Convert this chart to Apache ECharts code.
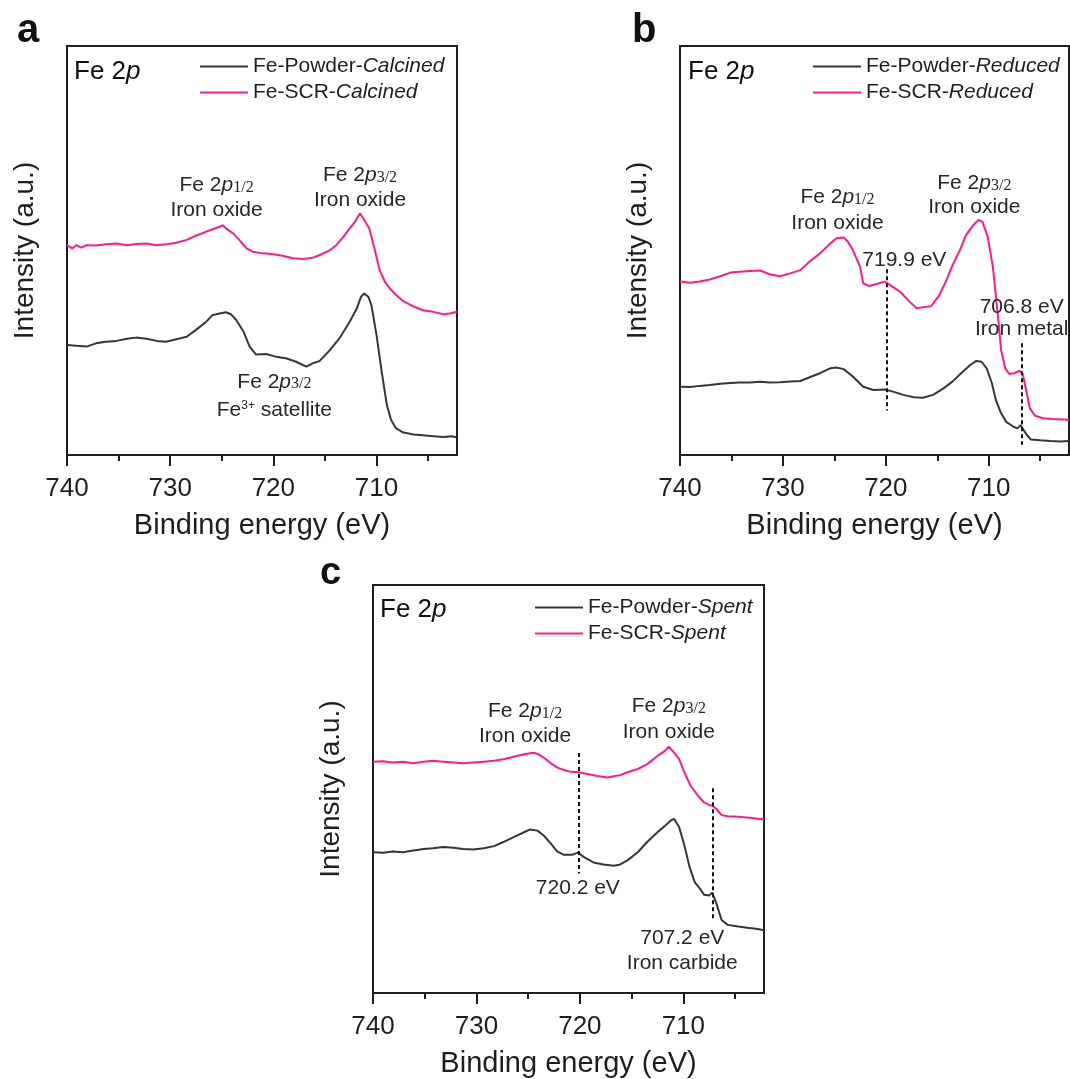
<!DOCTYPE html>
<html>
<head>
<meta charset="utf-8">
<script src="https://cdn.jsdelivr.net/npm/echarts@6/dist/echarts.min.js"></script>
<style>
html,body{margin:0;padding:0;background:#fff;}
#chart{width:1070px;height:1079px;}
</style>
</head>
<body>
<div id="chart"></div>
<script>
// ---------- DATA ----------
const X_MIN = 702.2, X_MAX = 740;
const majorTicks = [740, 730, 720, 710];
const minorTicks = [735, 725, 715, 705];

// Panel a (Calcined)
const aPowderE = [740,739.1,738.1,737.2,736.2,735.2,734.2,733.3,732.3,731.3,730.4,729.4,728.4,727.5,726.5,725.9,725.2,724.6,724.1,723.6,722.9,722.3,721.7,720.7,719.7,718.7,717.8,716.8,716.2,715.5,714.5,713.6,712.6,711.9,711.5,711.2,710.8,710.5,710.0,709.5,709.0,708.6,708.1,707.4,706.4,705.5,704.5,703.5,702.7,702.2];
const aPowderI = [26.9,26.7,26.5,27.3,27.7,27.9,28.4,28.7,28.4,27.9,27.7,28.3,28.9,30.6,32.6,34.2,34.6,34.9,34.4,33.0,30.2,26.5,24.6,24.7,24.0,23.6,22.8,21.6,22.4,23.0,25.7,28.5,32.6,35.9,38.7,39.5,38.7,36.7,29.3,20.4,12.2,8.6,6.5,5.5,5.0,4.8,4.6,4.4,4.6,4.3];
const aScrE = [740,739.5,739.1,738.6,738.1,737.2,736.2,735.2,734.2,733.3,732.3,731.3,730.4,729.4,728.4,727.5,726.5,725.9,725.2,724.9,724.6,723.9,723.3,722.6,722.0,721.0,720.0,719.1,718.1,717.1,716.2,715.5,714.5,713.9,713.2,712.6,712.1,711.6,711.2,710.7,710.2,709.7,709.2,708.7,708.1,707.4,706.4,705.5,704.5,703.5,702.9,702.2];
const aScrI = [51.3,50.5,51.3,50.7,51.3,51.2,51.5,51.7,51.3,51.6,51.7,51.3,51.5,51.9,52.6,53.6,54.6,55.2,55.8,56.2,55.4,54.2,52.6,50.5,49.7,49.3,49.1,48.7,48.1,47.9,48.2,48.9,50.1,51.3,53.4,55.4,57.0,59.1,57.5,55.4,50.5,45.2,42.4,40.7,39.1,37.6,36.3,35.4,35.0,34.4,34.6,35.0];

// Panel b (Reduced)
const bPowderE = [740,739.0,738.1,737.1,736.1,735.1,734.2,733.2,732.2,731.3,730.3,729.3,728.3,727.4,726.4,725.4,724.8,724.1,723.2,722.2,721.2,720.1,719.3,718.3,717.3,716.4,715.4,714.4,713.5,712.5,711.8,711.2,710.7,710.2,709.7,709.3,708.8,708.3,707.6,707.2,706.9,706.7,706.3,705.9,705.0,704.0,703.0,702.2];
const bPowderI = [16.7,16.6,16.9,17.1,17.4,17.6,17.7,17.7,17.9,17.7,17.8,18.0,18.1,19.0,20.0,21.2,21.4,21.0,19.2,16.7,15.9,16.0,15.5,14.7,14.1,14.0,14.7,16.3,18.0,20.4,22.0,23.0,22.8,21.2,17.6,13.4,10.2,8.1,6.9,6.5,7.3,6.5,4.9,3.8,3.6,3.4,3.3,3.4];
const bScrE = [740,739.0,738.1,737.1,736.1,735.1,734.2,733.2,732.2,731.3,730.3,729.3,728.3,727.4,726.4,725.4,724.8,724.1,723.7,723.2,722.5,722.2,721.6,720.9,720.1,719.6,718.6,717.7,717.0,716.4,715.6,714.8,714.1,713.5,712.8,712.2,711.5,711.0,710.6,710.1,709.6,709.1,708.8,708.4,708.0,707.5,707.0,706.7,706.3,706.0,705.5,704.7,703.8,702.8,702.2];
const bScrI = [42.4,42.1,42.4,42.9,43.7,44.6,44.8,45.0,45.1,44.2,43.7,44.4,45.2,47.3,49.3,51.7,53.0,53.2,52.2,50.1,46.0,42.0,41.3,41.8,42.4,41.6,39.9,37.5,35.9,36.1,36.4,39.1,42.8,46.5,50.1,53.8,56.2,57.5,57.0,53.4,46.0,33.8,25.7,21.2,19.8,20.0,20.6,19.8,15.1,11.4,9.6,9.0,8.8,8.7,8.6];

// Panel c (Spent)
const cPowderE = [740,739.0,738.1,737.1,736.1,735.1,734.2,733.2,732.2,731.3,730.3,729.3,728.3,727.4,726.4,725.4,724.8,724.1,723.5,722.8,722.2,721.6,720.7,720.2,719.6,718.6,717.7,716.7,716.1,715.4,714.4,713.5,712.5,711.8,711.2,710.9,710.4,709.9,709.4,708.9,708.4,708.0,707.5,707.2,706.8,706.3,705.7,704.7,703.8,702.8,702.2];
const cPowderI = [34.5,34.4,34.7,34.5,34.9,35.3,35.5,35.8,35.6,35.3,35.2,35.5,36.0,37.0,38.2,39.4,40.1,39.8,38.6,36.6,34.7,33.9,33.9,34.4,33.3,31.9,31.5,31.2,31.5,32.5,34.5,37.0,39.4,40.9,42.3,42.7,40.6,36.2,30.9,27.2,25.6,24.1,23.9,24.6,21.9,17.9,16.7,16.3,16.0,15.7,15.4];
const cScrE = [740,739.0,738.1,737.1,736.1,735.1,734.2,733.2,732.2,731.3,730.3,729.3,728.3,727.4,726.4,725.4,724.5,724.0,723.5,722.8,722.2,721.6,720.9,720.1,719.3,718.3,717.3,716.7,716.1,715.4,714.4,713.5,712.5,711.8,711.4,710.9,710.4,709.9,709.3,708.6,708.0,707.5,707.2,706.8,706.3,705.7,704.7,703.8,702.8,702.2];
const cScrI = [56.7,56.8,56.5,56.7,56.3,56.7,56.9,56.7,56.5,56.3,56.5,56.7,56.9,57.3,57.9,58.5,58.9,58.5,57.7,56.3,55.3,54.7,54.2,54.1,53.7,53.2,52.8,53.1,53.4,54.1,54.9,56.1,58.1,59.3,60.4,58.9,57.3,54.1,50.8,48.4,46.7,46.1,45.9,45.1,43.6,43.3,43.2,43.0,42.7,42.5];

// series names (legend)
const namesA = ['Fe-Powder-Calcined', 'Fe-SCR-Calcined'];
const namesB = ['Fe-Powder-Reduced', 'Fe-SCR-Reduced'];
const namesC = ['Fe-Powder-Spent', 'Fe-SCR-Spent'];

// dashed guide lines: [energy, top, bottom]
const guidesB = [[719.9, 45.4, 10.9], [706.8, 27.3, 2.5]];
const guidesC = [[720.1, 58.8, 29.3], [707.2, 50.2, 18.3]];

// annotation texts and anchors [energy, intensity, text]
const annA = [
  [725.5, 66.0, 'Fe 2{ip|p}{sub|1/2}'],
  [725.5, 59.9, 'Iron oxide'],
  [711.6, 68.5, 'Fe 2{ip|p}{sub|3/2}'],
  [711.6, 62.4, 'Iron oxide'],
  [719.9, 17.9, 'Fe 2{ip|p}{sub|3/2}'],
  [719.9, 10.9, 'Fe{sup|3+} satellite']
];
const annB = [
  [724.7, 63.0, 'Fe 2{ip|p}{sub|1/2}'],
  [724.7, 56.7, 'Iron oxide'],
  [711.4, 66.4, 'Fe 2{ip|p}{sub|3/2}'],
  [711.4, 60.5, 'Iron oxide'],
  [718.2, 47.7, '719.9 eV'],
  [706.8, 36.1, '706.8 eV'],
  [706.8, 30.7, 'Iron metal']
];
const annC = [
  [725.3, 69.1, 'Fe 2{ip|p}{sub|1/2}'],
  [725.3, 63.0, 'Iron oxide'],
  [711.4, 70.3, 'Fe 2{ip|p}{sub|3/2}'],
  [711.4, 64.0, 'Iron oxide'],
  [720.2, 25.6, '720.2 eV'],
  [710.1, 13.4, '707.2 eV'],
  [710.1, 7.3, 'Iron carbide']
];

// ---------- STYLE ----------
const FONT = 'Liberation Sans, Arial, sans-serif';
const BLACK = '#363636';
const PINK = '#ff1a8c';
const TXT = '#1e1e1e';
const ANN = '#262626';

const grids = [
  {left: 67, top: 46, width: 390, height: 409},
  {left: 680, top: 46, width: 389, height: 409},
  {left: 373, top: 585, width: 391, height: 410}
];

function zip(xs, ys) { return xs.map((x, i) => [x, ys[i]]); }

const xAxes = [], yAxes = [];
grids.forEach((g, i) => {
  xAxes.push({
    gridIndex: i, type: 'value', inverse: true, min: X_MIN, max: X_MAX, position: 'bottom',
    axisLine: {show: true, lineStyle: {color: TXT, width: 2}},
    axisTick: {show: true, inside: false, length: 11, customValues: majorTicks, lineStyle: {color: TXT, width: 2}},
    axisLabel: {show: true, customValues: majorTicks, fontSize: 26, color: TXT, fontFamily: FONT, margin: 21},
    splitLine: {show: false},
    name: 'Binding energy (eV)', nameLocation: 'middle', nameGap: 56,
    nameTextStyle: {fontSize: 29, color: TXT, fontFamily: FONT}
  });
  xAxes.push({
    gridIndex: i, type: 'value', inverse: true, min: X_MIN, max: X_MAX, position: 'bottom', offset: 0,
    axisLine: {show: false},
    axisTick: {show: true, inside: false, length: 6, customValues: minorTicks, lineStyle: {color: TXT, width: 2}},
    axisLabel: {show: false},
    splitLine: {show: false}
  });
  yAxes.push({
    gridIndex: i, type: 'value', min: 0, max: 100,
    axisLine: {show: true, lineStyle: {color: TXT, width: 2}},
    axisTick: {show: false}, axisLabel: {show: false}, splitLine: {show: false},
    name: 'Intensity (a.u.)', nameLocation: 'middle', nameGap: 28,
    nameTextStyle: {fontSize: 28, color: TXT, fontFamily: FONT}
  });
});

const richAnn = {
  ip: {fontStyle: 'italic', fontSize: 21, fontFamily: FONT, color: ANN, verticalAlign: 'bottom'},
  sub: {fontSize: 16, fontFamily: 'Liberation Serif, serif', color: ANN, verticalAlign: 'bottom'},
  sup: {fontSize: 12, fontFamily: FONT, color: ANN, verticalAlign: 'top'}
};

function lineSeries(name, gi, data, color, guides) {
  const s = {
    name: name, type: 'line', xAxisIndex: gi * 2, yAxisIndex: gi,
    data: data, showSymbol: false, symbol: 'none', smooth: false,
    lineStyle: {color: color, width: 2}, itemStyle: {color: color},
    silent: true, animation: false, z: 3
  };
  if (guides) {
    s.markLine = {
      silent: true, symbol: ['none', 'none'], animation: false,
      label: {show: false},
      lineStyle: {type: [4, 3], color: '#111', width: 2},
      data: guides.map(g => [{coord: [g[0], g[1]]}, {coord: [g[0], g[2]]}])
    };
  }
  return s;
}

function annSeries(gi, ann) {
  return {
    type: 'scatter', xAxisIndex: gi * 2, yAxisIndex: gi, silent: true, animation: false,
    symbolSize: 0, itemStyle: {color: 'rgba(0,0,0,0)', opacity: 1},
    data: ann.map(a => ({value: [a[0], a[1]], txt: a[2]})),
    label: {
      show: true, position: 'inside', color: ANN, fontSize: 21, fontFamily: FONT,
      formatter: p => p.data.txt, rich: richAnn
    }, z: 5
  };
}

const series = [
  lineSeries(namesA[0], 0, zip(aPowderE, aPowderI), BLACK),
  lineSeries(namesA[1], 0, zip(aScrE, aScrI), PINK),
  lineSeries(namesB[0], 1, zip(bPowderE, bPowderI), BLACK, guidesB),
  lineSeries(namesB[1], 1, zip(bScrE, bScrI), PINK),
  lineSeries(namesC[0], 2, zip(cPowderE, cPowderI), BLACK, guidesC),
  lineSeries(namesC[1], 2, zip(cScrE, cScrI), PINK),
  annSeries(0, annA), annSeries(1, annB), annSeries(2, annC)
];

function legend(names, left, top) {
  return {
    data: names, orient: 'vertical', left: left, top: top, padding: 0,
    icon: 'rect', itemWidth: 48, itemHeight: 2, itemGap: 5,
    selectedMode: false,
    textStyle: {fontSize: 21, color: TXT, fontFamily: FONT, lineHeight: 21,
      rich: {i: {fontStyle: 'italic', fontSize: 21, fontFamily: FONT, color: TXT}}},
    formatter: n => { const k = n.lastIndexOf('-'); return n.slice(0, k + 1) + '{i|' + n.slice(k + 1) + '}'; }
  };
}

function ttl(text, left, top, size, bold) {
  return {
    text: text, left: left, top: top, padding: 0,
    textStyle: {fontSize: size, fontWeight: bold ? 'bold' : 'normal', color: '#111', fontFamily: FONT,
      rich: {i: {fontStyle: 'italic', fontSize: size, fontFamily: FONT, color: '#111'}}}
  };
}

const option = {
  backgroundColor: '#fff',
  animation: false,
  title: [
    ttl('a', 17, 11, 40, true), ttl('b', 632, 11, 40, true), ttl('c', 320, 555, 38, true),
    ttl('Fe 2{i|p}', 74, 59, 26), ttl('Fe 2{i|p}', 688, 59, 26), ttl('Fe 2{i|p}', 380, 597, 26)
  ],
  grid: grids.map(g => Object.assign({show: true, borderColor: TXT, borderWidth: 2, backgroundColor: 'transparent'}, g)),
  xAxis: xAxes,
  yAxis: yAxes,
  legend: [legend(namesA, 200, 56), legend(namesB, 813, 56), legend(namesC, 535, 597)],
  series: series
};

const chart = echarts.init(document.getElementById('chart'), null, {renderer: 'canvas'});
chart.setOption(option);
</script>
</body>
</html>
